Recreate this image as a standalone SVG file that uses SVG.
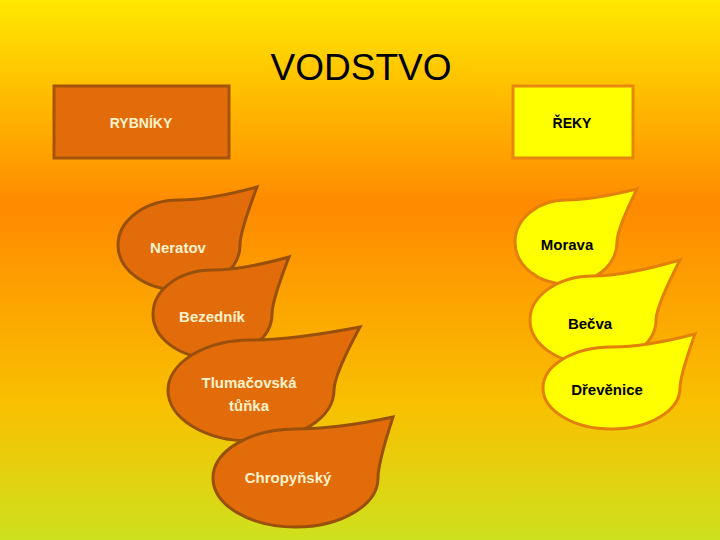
<svg xmlns="http://www.w3.org/2000/svg" width="720" height="540" viewBox="0 0 720 540">
<defs>
<linearGradient id="bg" x1="0" y1="0" x2="0" y2="1">
<stop offset="0" stop-color="#FFE800"/>
<stop offset="0.38" stop-color="#FF8A00"/>
<stop offset="0.75" stop-color="#F9C000"/>
<stop offset="1" stop-color="#CEE11E"/>
</linearGradient>
</defs>
<style>
.title{font-family:"Liberation Sans",Arial,sans-serif;font-size:37px;fill:#000;text-anchor:middle}
.lbl{font-family:"Liberation Sans",Arial,sans-serif;font-weight:bold;font-size:15px;text-anchor:middle}
.hdr{font-family:"Liberation Sans",Arial,sans-serif;font-weight:bold;font-size:14px;text-anchor:middle}
.oleaf{fill:#E36C0A;stroke:#99500A;stroke-width:3}
.yleaf{fill:#FFFF00;stroke:#E3800A;stroke-width:3}
.orect{fill:#E36C0A;stroke:#A5540C;stroke-width:3}
.yrect{fill:#FFFF00;stroke:#E8870E;stroke-width:3}
.light{fill:#FFF2CC}
.dark{fill:#000}
</style>
<rect width="720" height="540" fill="url(#bg)"/>
<text class="title" x="361" y="80">VODSTVO</text>
<g id="rybniky">
<rect class="orect" x="54" y="86" width="175" height="72"/>
<text class="hdr light" x="141" y="128">RYBNÍKY</text>
</g>
<g id="reky">
<rect class="yrect" x="513" y="86" width="120" height="72"/>
<text class="hdr dark" x="572" y="128">ŘEKY</text>
</g>
<g id="neratov">
<path class="oleaf" d="M118,245 A61,45 0 0 1 179,200 Q209.5,200 257,187 Q240,231.5 240,245 A61,45 0 0 1 179,290 A61,45 0 0 1 118,245 Z"/>
<text class="lbl light" x="178" y="253">Neratov</text>
</g>
<g id="bezednik">
<path class="oleaf" d="M153,314 A59.5,44 0 0 1 212.5,270 Q242,270 289,257 Q272,301 272,314 A59.5,44 0 0 1 212.5,358 A59.5,44 0 0 1 153,314 Z"/>
<text class="lbl light" x="212" y="322">Bezedník</text>
</g>
<g id="tlumacovska">
<path class="oleaf" d="M168,390.5 A83,50.5 0 0 1 251,340 Q292.5,340 360,327 Q334,375 334,390.5 A83,50.5 0 0 1 251,441 A83,50.5 0 0 1 168,390.5 Z"/>
<text class="lbl light" x="249" y="388">Tlumačovská</text>
<text class="lbl light" x="249" y="411">tůňka</text>
</g>
<g id="chropynsky">
<path class="oleaf" d="M213,478 A82.5,49 0 0 1 295.5,429 Q336.75,429 393,417 Q378,463 378,478 A82.5,49 0 0 1 295.5,527 A82.5,49 0 0 1 213,478 Z"/>
<text class="lbl light" x="288" y="483">Chropyňský</text>
</g>
<g id="morava">
<path class="yleaf" d="M515,242 A51,42 0 0 1 566,200 Q591.5,200 637,189 Q617,229.4 617,242 A51,42 0 0 1 566,284 A51,42 0 0 1 515,242 Z"/>
<text class="lbl dark" x="567" y="250">Morava</text>
</g>
<g id="becva">
<path class="yleaf" d="M530,320 A63,44 0 0 1 593,276 Q624.5,276 680,260 Q656,306.8 656,320 A63,44 0 0 1 593,364 A63,44 0 0 1 530,320 Z"/>
<text class="lbl dark" x="590" y="329">Bečva</text>
</g>
<g id="drevenice">
<path class="yleaf" d="M543,388 A68.5,41 0 0 1 611.5,347 Q645.75,347 695,334 Q680,375.7 680,388 A68.5,41 0 0 1 611.5,429 A68.5,41 0 0 1 543,388 Z"/>
<text class="lbl dark" x="607" y="395">Dřevěnice</text>
</g>
</svg>
